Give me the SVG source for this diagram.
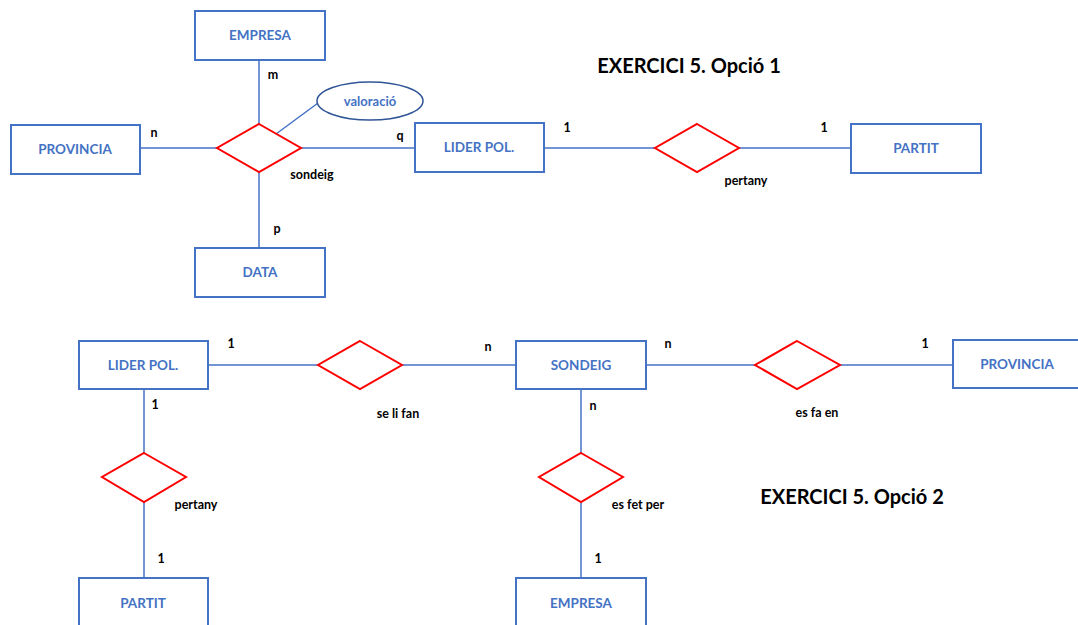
<svg xmlns="http://www.w3.org/2000/svg" width="1078" height="625" viewBox="0 0 1078 625">
  <style>
    .ent { fill: #ffffff; stroke: #4472C4; stroke-width: 2; }
    .rel { fill: #ffffff; stroke: #FF0000; stroke-width: 2; }
    .attr { fill: #ffffff; stroke: #2F5597; stroke-width: 1.5; }
    .conn line { stroke: #4472C4; stroke-width: 1.5; }
    .en { font-family: Lato, "Liberation Sans", sans-serif; font-weight: bold; font-size: 13.5px; fill: #4472C4; text-anchor: middle; dominant-baseline: central; }
    .at { font-family: Lato, "Liberation Sans", sans-serif; font-weight: bold; font-size: 13px; fill: #4472C4; text-anchor: middle; dominant-baseline: central; }
    .lb { font-family: Lato, "Liberation Sans", sans-serif; font-weight: bold; font-size: 12.5px; fill: #000000; text-anchor: middle; dominant-baseline: central; }
    .tt { font-family: Lato, "Liberation Sans", sans-serif; font-weight: bold; font-size: 20px; fill: #000000; text-anchor: middle; dominant-baseline: central; }
  </style>
  <rect width="1078" height="625" fill="#ffffff"/>

  <!-- connectors -->
  <g id="connectors" class="conn">
    <!-- option 1 -->
    <line x1="259" y1="60" x2="259" y2="124"/>
    <line x1="140" y1="148" x2="217" y2="148"/>
    <line x1="301" y1="148" x2="415" y2="148"/>
    <line x1="259" y1="172" x2="259" y2="248"/>
    <line x1="276" y1="134" x2="318" y2="103"/>
    <line x1="544" y1="148" x2="655" y2="148"/>
    <line x1="739" y1="148" x2="851" y2="148"/>
    <!-- option 2 -->
    <line x1="208" y1="365" x2="318" y2="365"/>
    <line x1="402" y1="365" x2="516" y2="365"/>
    <line x1="646" y1="365" x2="755" y2="365"/>
    <line x1="840" y1="365" x2="953" y2="365"/>
    <line x1="144" y1="389" x2="144" y2="453"/>
    <line x1="144" y1="502" x2="144" y2="578"/>
    <line x1="581" y1="389" x2="581" y2="453"/>
    <line x1="581" y1="502" x2="581" y2="578"/>
  </g>

  <!-- Option 1 -->
  <text class="tt" x="689" y="65">EXERCICI 5. Opció 1</text>

  <g id="empresa1">
    <rect class="ent" x="195" y="11" width="130" height="49"/>
    <text class="en" x="260" y="35">EMPRESA</text>
  </g>
  <g id="provincia1">
    <rect class="ent" x="11" y="125" width="129" height="49"/>
    <text class="en" x="75" y="149">PROVINCIA</text>
  </g>
  <g id="sondeig1">
    <polygon class="rel" points="259,124 301,148 259,172 217,148"/>
    <text class="lb" x="312" y="174">sondeig</text>
  </g>
  <g id="valoracio">
    <ellipse class="attr" cx="370" cy="101" rx="53" ry="19"/>
    <text class="at" x="370" y="101">valoració</text>
  </g>
  <g id="lider1">
    <rect class="ent" x="415" y="123" width="129" height="49"/>
    <text class="en" x="479" y="147">LIDER POL.</text>
  </g>
  <g id="data1">
    <rect class="ent" x="195" y="248" width="130" height="49"/>
    <text class="en" x="260" y="272">DATA</text>
  </g>
  <g id="pertany1">
    <polygon class="rel" points="697,124 739,148 697,172 655,148"/>
    <text class="lb" x="746" y="180">pertany</text>
  </g>
  <g id="partit1">
    <rect class="ent" x="851" y="124" width="130" height="49"/>
    <text class="en" x="916" y="148">PARTIT</text>
  </g>

  <!-- cardinalities, option 1 -->
  <text class="lb" x="273" y="74">m</text>
  <text class="lb" x="154" y="132">n</text>
  <text class="lb" x="400" y="135">q</text>
  <text class="lb" x="277" y="228">p</text>
  <text class="lb" x="567" y="127">1</text>
  <text class="lb" x="824" y="127">1</text>

  <!-- Option 2 -->
  <text class="tt" x="852" y="496">EXERCICI 5. Opció 2</text>

  <g id="lider2">
    <rect class="ent" x="79" y="341" width="129" height="48"/>
    <text class="en" x="143" y="365">LIDER POL.</text>
  </g>
  <g id="selifan">
    <polygon class="rel" points="360,341 402,365 360,389 318,365"/>
    <text class="lb" x="398" y="413">se li fan</text>
  </g>
  <g id="sondeig2">
    <rect class="ent" x="516" y="341" width="130" height="48"/>
    <text class="en" x="581" y="365">SONDEIG</text>
  </g>
  <g id="esfaen">
    <polygon class="rel" points="797,341 840,365 797,389 755,365"/>
    <text class="lb" x="817" y="412">es fa en</text>
  </g>
  <g id="provincia2">
    <rect class="ent" x="953" y="340" width="130" height="48"/>
    <text class="en" x="1017" y="364">PROVINCIA</text>
  </g>
  <g id="pertany2">
    <polygon class="rel" points="144,453 186,477 144,502 102,477"/>
    <text class="lb" x="196" y="504">pertany</text>
  </g>
  <g id="partit2">
    <rect class="ent" x="79" y="578" width="129" height="60"/>
    <text class="en" x="143" y="603">PARTIT</text>
  </g>
  <g id="esfetper">
    <polygon class="rel" points="581,453 623,477 581,502 539,477"/>
    <text class="lb" x="638" y="504">es fet per</text>
  </g>
  <g id="empresa2">
    <rect class="ent" x="516" y="578" width="130" height="60"/>
    <text class="en" x="581" y="603">EMPRESA</text>
  </g>

  <!-- cardinalities, option 2 -->
  <text class="lb" x="231" y="343">1</text>
  <text class="lb" x="488" y="346">n</text>
  <text class="lb" x="155" y="404">1</text>
  <text class="lb" x="161" y="558">1</text>
  <text class="lb" x="668" y="343">n</text>
  <text class="lb" x="925" y="343">1</text>
  <text class="lb" x="593" y="405">n</text>
  <text class="lb" x="598" y="558">1</text>
</svg>
